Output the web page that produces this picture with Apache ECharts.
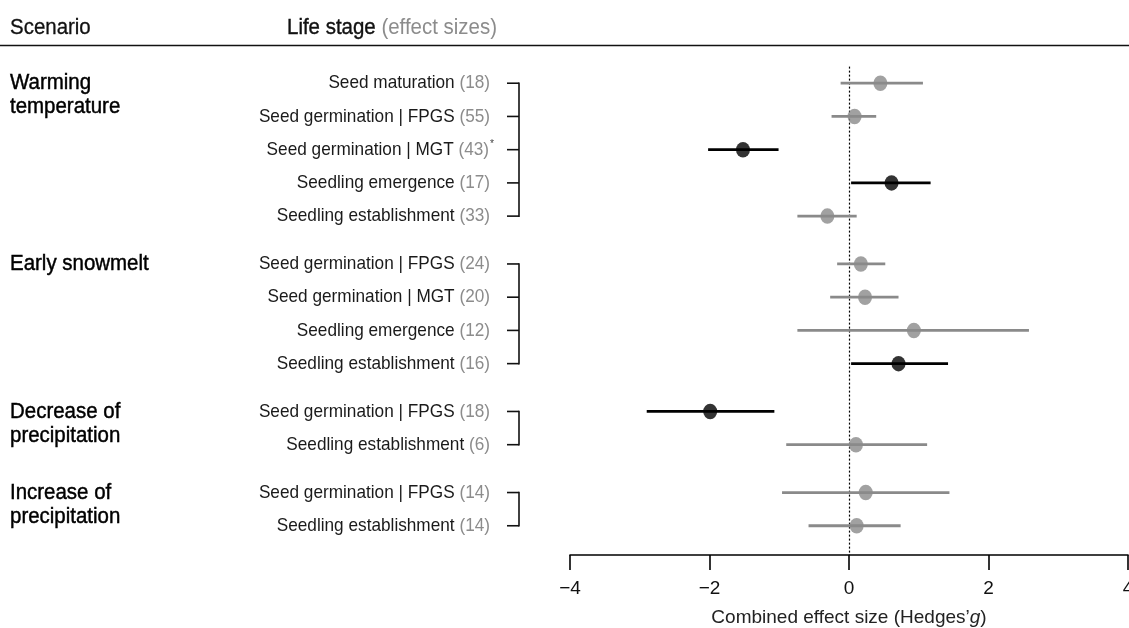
<!DOCTYPE html>
<html><head><meta charset="utf-8">
<script src="https://cdn.jsdelivr.net/npm/echarts@6/dist/echarts.min.js"></script>
<style>html,body{margin:0;padding:0;background:#fff;overflow:hidden}#c{width:1129px;height:628px}</style>
</head><body><div id="c"></div>
<script>
// ---- data ----
const scenarios = ['Warming\ntemperature', 'Early snowmelt', 'Decrease of\nprecipitation', 'Increase of\nprecipitation'];
const scenarioIndex = [0,0,0,0,0,1,1,1,1,2,2,3,3];
const stages = ['Seed maturation','Seed germination | FPGS','Seed germination | MGT','Seedling emergence','Seedling establishment',
  'Seed germination | FPGS','Seed germination | MGT','Seedling emergence','Seedling establishment',
  'Seed germination | FPGS','Seedling establishment',
  'Seed germination | FPGS','Seedling establishment'];
const effectCounts = [18,55,43,17,33,24,20,12,16,18,6,14,14];
const footnoteMarks = ['','','*','','','','','','','','','',''];
const effectSize = [0.45,0.08,-1.52,0.61,-0.31,0.17,0.23,0.93,0.71,-1.99,0.10,0.24,0.11];
const ciLower   = [-0.12,-0.25,-2.02,0.03,-0.74,-0.17,-0.27,-0.74,0.03,-2.90,-0.90,-0.96,-0.58];
const ciUpper   = [1.06,0.39,-1.01,1.17,0.11,0.52,0.71,2.58,1.42,-1.07,1.12,1.44,0.74];
const significant = [false,false,true,true,false,false,false,false,true,true,false,false,false];
const xTicks = [-4,-2,0,2,4];

// ---- layout / style ----
const FONT = '"Liberation Sans", Arial, Helvetica, sans-serif';
const GAP = 0.44;               // extra space between scenario groups (row units)
const GRAY = '#8a8a8a';
const BLACK = '#000';
const SQX = 0.93;               // slight horizontal squeeze of text (reference glyphs are narrow)
const rowPos = scenarioIndex.map((g, i) => i + GAP * g);
const lastRowOfGroup = {};
const firstRowOfGroup = {};
scenarioIndex.forEach((g, i) => { lastRowOfGroup[g] = i; if (firstRowOfGroup[g] === undefined) firstRowOfGroup[g] = i; });

const chart = echarts.init(document.getElementById('c'), null, {renderer: 'canvas', width: 1129, height: 628});

const labelData = rowPos.map((p, i) => [xTicks[0], p, i]);
const barData = rowPos.map((p, i) => [ciLower[i], p, ciUpper[i], i]);
const pointData = rowPos.map((p, i) => ({value: [effectSize[i], p], itemStyle: {color: significant[i] ? BLACK : GRAY}}));

const LABEL_RIGHT = 490, TICK_L = 507, TICK_R = 519;
const LBL = 18.5, SCN = 22, HDR = 22;

chart.setOption({
  animation: false,
  backgroundColor: '#fff',
  grid: {left: 570, width: 558, top: 50, bottom: 73, containLabel: false, outerBoundsMode: 'none'},
  xAxis: {
    type: 'value', min: xTicks[0], max: xTicks[xTicks.length - 1], interval: 2,
    splitLine: {show: false},
    axisLine: {show: true, onZero: false, lineStyle: {color: '#000', width: 1.6}},
    axisTick: {show: true, inside: false, length: 15, lineStyle: {color: '#000', width: 1.6}},
    axisLabel: {fontFamily: FONT, fontSize: 19, color: '#111', margin: 24, hideOverlap: false,
      formatter: v => v < 0 ? '\u2212' + Math.abs(v) : String(v)},
    name: '{a|Combined effect size (Hedges\u2019}{i|g}{a|)}',
    nameLocation: 'middle', nameGap: 53,
    nameTextStyle: {rich: {
      a: {fontFamily: FONT, fontSize: 19, color: '#222'},
      i: {fontFamily: FONT, fontSize: 19, color: '#222', fontStyle: 'italic'}
    }}
  },
  yAxis: {type: 'value', inverse: true, min: -1, max: 14.2, show: false},
  graphic: [
    {type: 'text', x: 10, y: 28, scaleX: SQX, style: {text: 'Scenario', fontFamily: FONT, fontSize: HDR, fill: '#111',
      stroke: '#111', lineWidth: 0.3, verticalAlign: 'middle'}},
    {type: 'text', x: 287, y: 28, scaleX: SQX, style: {text: '{a|Life stage }{b|(effect sizes)}', verticalAlign: 'middle', rich: {
      a: {fontFamily: FONT, fontSize: HDR, fill: '#111', stroke: '#111', lineWidth: 0.4},
      b: {fontFamily: FONT, fontSize: HDR, fill: '#8c8c8c'}}}},
    {type: 'line', shape: {x1: 0, y1: 45.5, x2: 1129, y2: 45.5}, style: {stroke: '#111', lineWidth: 1.6}}
  ],
  series: [
    {
      type: 'custom', clip: false, silent: true,
      data: labelData,
      encode: {x: 0, y: 1},
      renderItem: (params, api) => {
        const i = api.value(2);
        const y = api.coord([api.value(0), api.value(1)])[1];
        const g = scenarioIndex[i];
        const children = [];
        let txt = '{n|' + stages[i] + ' }{c|(' + effectCounts[i] + ')}';
        if (footnoteMarks[i]) txt += '{s|' + footnoteMarks[i] + '}';
        children.push({type: 'text', x: footnoteMarks[i] ? LABEL_RIGHT + 4 : LABEL_RIGHT, y: y, scaleX: SQX, style: {
          text: txt, x: 0, y: 0, align: 'right', verticalAlign: 'middle',
          rich: {
            n: {fontFamily: FONT, fontSize: LBL, fill: '#1a1a1a', lineHeight: 22},
            c: {fontFamily: FONT, fontSize: LBL, fill: '#8c8c8c', lineHeight: 22},
            s: {fontFamily: FONT, fontSize: 11, fill: '#444', lineHeight: 22, verticalAlign: 'top', padding: [0, 0, 13, 1]}
          }}});
        children.push({type: 'line', shape: {x1: TICK_L, y1: y, x2: TICK_R, y2: y}, style: {stroke: '#111', lineWidth: 1.6}});
        if (firstRowOfGroup[g] === i) {
          const yLast = api.coord([api.value(0), rowPos[lastRowOfGroup[g]]])[1];
          children.push({type: 'line', shape: {x1: TICK_R, y1: y - 0.8, x2: TICK_R, y2: yLast + 0.8}, style: {stroke: '#111', lineWidth: 1.6}});
          children.push({type: 'text', x: 10, y: y, scaleX: SQX, style: {
            text: scenarios[g], x: 0, y: -12, align: 'left', verticalAlign: 'top',
            fontFamily: FONT, fontSize: SCN, fill: '#000', stroke: '#000', lineWidth: 0.45, lineHeight: 24}});
        }
        return {type: 'group', children};
      },
      z: 1
    },
    {
      type: 'custom', clip: false, silent: true,
      data: barData,
      encode: {x: [0, 2], y: 1},
      renderItem: (params, api) => {
        const i = api.value(3);
        const a = api.coord([api.value(0), api.value(1)]);
        const b = api.coord([api.value(2), api.value(1)]);
        return {type: 'line', shape: {x1: a[0], y1: a[1], x2: b[0], y2: b[1]},
          style: {stroke: significant[i] ? BLACK : GRAY, lineWidth: 2.8}};
      },
      z: 3
    },
    {
      type: 'scatter', silent: true,
      symbol: 'circle', symbolSize: [14, 15.5],
      data: pointData,
      z: 4,
      markLine: {
        silent: true, symbol: ['none', 'none'], label: {show: false},
        lineStyle: {color: '#000', width: 1.2, type: [2, 2]},
        data: [[{coord: [0, -0.5]}, {coord: [0, 14.2]}]],
        z: 2
      }
    }
  ]
});
</script>
</body></html>
